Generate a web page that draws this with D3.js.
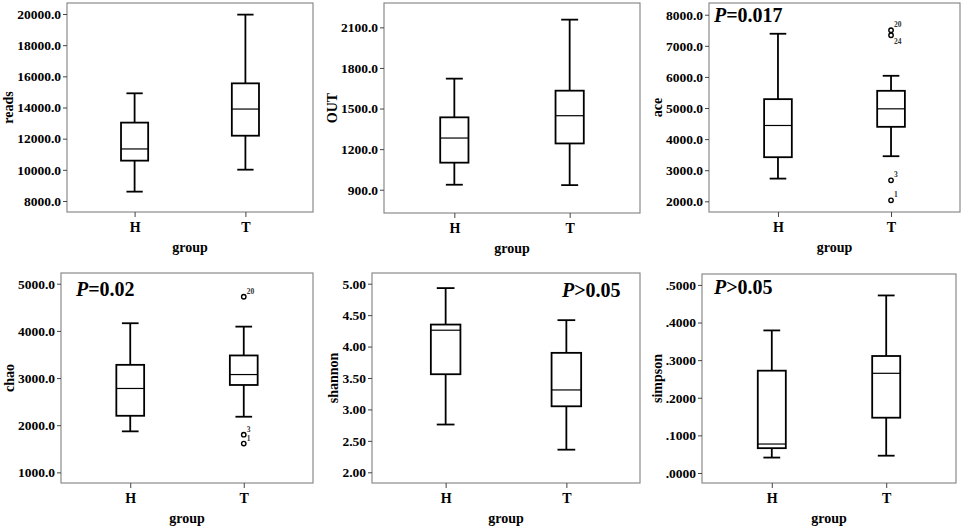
<!DOCTYPE html>
<html>
<head>
<meta charset="utf-8">
<script src="https://cdn.jsdelivr.net/npm/d3@7"></script>
<style>
  html, body { margin: 0; padding: 0; background: #fff; }
  svg, svg text { font-family: "Liberation Serif", "Times New Roman", serif; }
  svg { display: block; }
  .tick text { font-weight: bold; font-size: 13.5px; fill: #000; }
  .tick line { stroke: #444; }
  .title { font-weight: bold; font-size: 14px; }
</style>
</head>
<body>
<div id="chart"></div>
<script>
// data
const groups = ["H", "T"];
const metrics = ["reads", "OUT", "ace", "chao", "shannon", "simpson"];
const whiskerLow  = [[8600, 10010], [937, 934], [2730, 3450], [1870, 2180], [2.76, 2.36], [0.041, 0.046]];
const q1          = [[10590, 12190], [1100, 1242], [3418, 4395], [2200, 2853], [3.56, 3.05], [0.066, 0.147]];
const medians     = [[11340, 13900], [1282, 1447], [4438, 4974], [2779, 3074], [4.26, 3.31], [0.077, 0.265]];
const q3          = [[13030, 15550], [1435, 1632], [5285, 5553], [3280, 3479], [4.35, 3.90], [0.272, 0.311]];
const whiskerHigh = [[14910, 19960], [1721, 2157], [7388, 6036], [4162, 4090], [4.93, 4.42], [0.379, 0.472]];
const outliers = [
  [], [],
  [{ g: "T", v: 7500, id: "20", pos: "up" }, { g: "T", v: 7340, id: "24", pos: "down" },
   { g: "T", v: 2676, id: "3", pos: "up" }, { g: "T", v: 2032, id: "1", pos: "up" }],
  [{ g: "T", v: 4723, id: "20", pos: "up" }, { g: "T", v: 1800, id: "3", pos: "up" },
   { g: "T", v: 1610, id: "1", pos: "up" }],
  [], []
];
const tickValues = [
  [8000, 10000, 12000, 14000, 16000, 18000, 20000],
  [900, 1200, 1500, 1800, 2100],
  [2000, 3000, 4000, 5000, 6000, 7000, 8000],
  [1000, 2000, 3000, 4000, 5000],
  [2.0, 2.5, 3.0, 3.5, 4.0, 4.5, 5.0],
  [0, 0.1, 0.2, 0.3, 0.4, 0.5]
];
const yDomains = [[7294, 20706], [728, 2280], [1656, 8377], [775, 5227], [1.83, 5.17], [-0.0266, 0.529]];
const pLabels = [null, null, "=0.017", "=0.02", ">0.05", ">0.05"];

// layout
const frames = [
  { x0: 67, x1: 313, y0: 3, y1: 212 },
  { x0: 384, x1: 640, y0: 3, y1: 213 },
  { x0: 709, x1: 960, y0: 3, y1: 212 },
  { x0: 61, x1: 313, y0: 273, y1: 483 },
  { x0: 372, x1: 640, y0: 273, y1: 483 },
  { x0: 702, x1: 956, y0: 274, y1: 483 }
];
const pPos = [null, null, [714, 22], [76, 296], [562, 297], [714, 294]];

const fmt = [
  d3.format(".1f"), d3.format(".1f"), d3.format(".1f"), d3.format(".1f"),
  d3.format(".2f"), v => d3.format(".4f")(v).replace(/^0/, "")
];

const svg = d3.select("#chart").append("svg")
  .attr("width", 964).attr("height", 527);

metrics.forEach((m, i) => {
  const f = frames[i];
  const g = svg.append("g");

  const x = d3.scalePoint().domain(groups).range([f.x0, f.x1]).padding(0.61);
  const y = d3.scaleLinear().domain(yDomains[i]).range([f.y1, f.y0]);
  const boxW = x.step() * 0.245;
  const capW = boxW * 0.6;

  // frame
  g.append("rect")
    .attr("x", f.x0).attr("y", f.y0)
    .attr("width", f.x1 - f.x0).attr("height", f.y1 - f.y0)
    .attr("fill", "none").attr("stroke", "#8a8a8a").attr("stroke-width", 1.2);

  // y axis
  const ya = g.append("g")
    .attr("transform", `translate(${f.x0},0)`)
    .call(d3.axisLeft(y).tickValues(tickValues[i]).tickFormat(fmt[i]).tickSize(4).tickPadding(2));
  ya.attr("font-family", null).attr("font-size", null);
  ya.select(".domain").remove();

  // x axis
  const xa = g.append("g")
    .attr("transform", `translate(0,${f.y1})`)
    .call(d3.axisBottom(x).tickSize(5).tickPadding(5));
  xa.attr("font-family", null).attr("font-size", null);
  xa.select(".domain").remove();
  xa.selectAll(".tick text").style("font-size", "14px");

  // y title, placed left of the widest tick label
  let minLeft = f.x0;
  ya.selectAll(".tick text").each(function () {
    minLeft = Math.min(minLeft, f.x0 - 6 - this.getComputedTextLength());
  });
  g.append("text").attr("class", "title")
    .attr("transform", `translate(${minLeft - 9},${(f.y0 + f.y1) / 2}) rotate(-90)`)
    .attr("text-anchor", "middle").attr("dy", "0.35em")
    .text(m);

  // x title
  g.append("text").attr("class", "title")
    .attr("x", (f.x0 + f.x1) / 2).attr("y", f.y1 + 40)
    .attr("text-anchor", "middle")
    .text("group");

  // boxes
  groups.forEach((grp, j) => {
    const cx = x(grp);
    const bg = g.append("g").attr("stroke", "#000").attr("fill", "none");
    bg.append("line").attr("x1", cx).attr("x2", cx)
      .attr("y1", y(whiskerHigh[i][j])).attr("y2", y(q3[i][j])).attr("stroke-width", 1.8);
    bg.append("line").attr("x1", cx).attr("x2", cx)
      .attr("y1", y(q1[i][j])).attr("y2", y(whiskerLow[i][j])).attr("stroke-width", 1.8);
    [whiskerHigh[i][j], whiskerLow[i][j]].forEach(v => {
      bg.append("line").attr("x1", cx - capW / 2).attr("x2", cx + capW / 2)
        .attr("y1", y(v)).attr("y2", y(v)).attr("stroke-width", 1.8);
    });
    bg.append("rect")
      .attr("x", cx - boxW / 2).attr("width", boxW)
      .attr("y", y(q3[i][j])).attr("height", y(q1[i][j]) - y(q3[i][j]))
      .attr("fill", "#fff").attr("stroke-width", 1.8);
    bg.append("line").attr("x1", cx - boxW / 2).attr("x2", cx + boxW / 2)
      .attr("y1", y(medians[i][j])).attr("y2", y(medians[i][j])).attr("stroke-width", 1.2);
  });

  // outliers
  outliers[i].forEach(o => {
    const cx = x(o.g), cy = y(o.v);
    g.append("circle").attr("cx", cx).attr("cy", cy).attr("r", 2.2)
      .attr("fill", "#fff").attr("stroke", "#000").attr("stroke-width", 1.4);
    g.append("text")
      .attr("x", cx + 3).attr("y", o.pos === "up" ? cy - 3 : cy + 9)
      .style("font-size", "7.5px").style("font-weight", "bold").attr("fill", "#333")
      .text(o.id);
  });

  // P value label
  if (pLabels[i]) {
    const t = g.append("text").attr("x", pPos[i][0]).attr("y", pPos[i][1])
      .style("font-size", "20px").style("font-weight", "bold");
    t.append("tspan").style("font-style", "italic").text("P");
    t.append("tspan").text(pLabels[i]);
  }
});
</script>
</body>
</html>
